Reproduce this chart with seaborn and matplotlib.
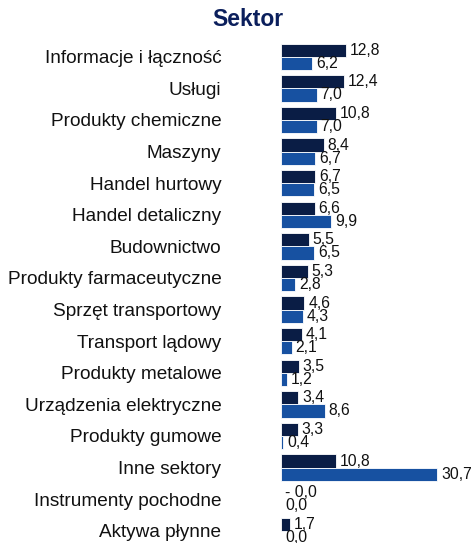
import pandas as pd
import matplotlib
import matplotlib.pyplot as plt
import seaborn as sns

matplotlib.use("Agg")

# Data
sectors = ['Informacje i łączność', 'Usługi', 'Produkty chemiczne', 'Maszyny',
           'Handel hurtowy', 'Handel detaliczny', 'Budownictwo',
           'Produkty farmaceutyczne', 'Sprzęt transportowy', 'Transport lądowy',
           'Produkty metalowe', 'Urządzenia elektryczne', 'Produkty gumowe',
           'Inne sektory', 'Instrumenty pochodne', 'Aktywa płynne']
series_a = [12.8, 12.4, 10.8, 8.4, 6.7, 6.6, 5.5, 5.3, 4.6, 4.1, 3.5, 3.4, 3.3, 10.8, -0.0, 1.7]
series_b = [6.2, 7.0, 7.0, 6.7, 6.5, 9.9, 6.5, 2.8, 4.3, 2.1, 1.2, 8.6, 0.4, 30.7, 0.0, 0.0]
series_names = ['Seria 1', 'Seria 2']

df = pd.DataFrame({
    'Sektor': sectors * 2,
    'Seria': [series_names[0]] * len(sectors) + [series_names[1]] * len(sectors),
    'Wartosc': series_a + series_b,
})

sns.set_style('white')
plt.rcParams['font.family'] = ['Liberation Sans', 'DejaVu Sans']

fig = plt.figure(figsize=(4.71, 5.43), dpi=100)
ax = fig.add_axes([281 / 471, 0, 190 / 471, 502 / 543])

sns.barplot(data=df, y='Sektor', x='Wartosc', hue='Seria', orient='h',
            palette=['#001A4F', '#004DB8'], width=0.83, edgecolor='white',
            linewidth=0.6, legend=False, ax=ax)

# Value labels, Polish decimal comma
for cont, vals in zip(ax.containers, [series_a, series_b]):
    labels = [f'{v:.1f}'.replace('-', '- ').replace('.', ',') for v in vals]
    ax.bar_label(cont, labels=labels, padding=2.8, fontsize=11.3, color='#111111')

ax.set_xlim(0, 37.4)
ax.set_ylim(-0.5 + 502 / 31.6, -0.5)
ax.set_xlabel('')
ax.set_ylabel('')
ax.set_xticks([])
ax.tick_params(axis='y', length=0, pad=43, labelsize=13.7, labelcolor='#111111')
sns.despine(ax=ax, left=True, bottom=True)

fig.text(248 / 471, 1 - 20 / 543, 'Sektor', ha='center', va='center',
         fontsize=16.5, fontweight='bold', color='#0B1F5C')

fig.savefig('out.png', dpi=100)
